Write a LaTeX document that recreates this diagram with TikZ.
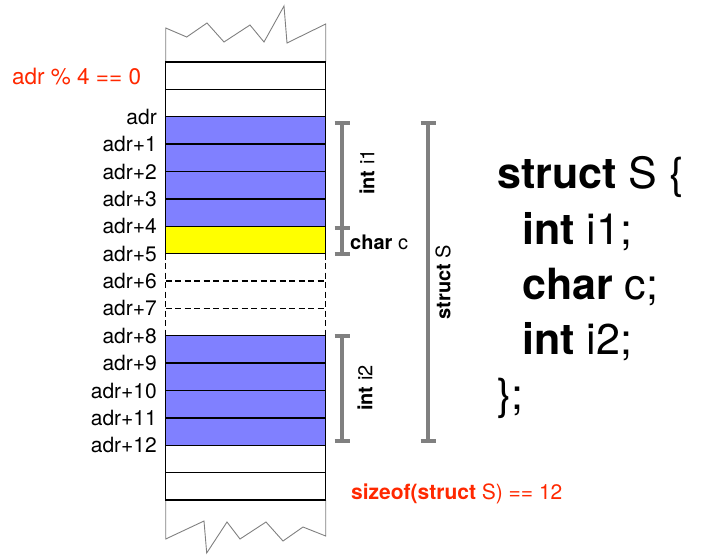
\documentclass[tikz,border=0pt]{standalone}
\usepackage{fontspec}
\setmainfont{TeX Gyre Heros}
\usepackage{xcolor}
\usepackage{tikz}
\usetikzlibrary{positioning}

\definecolor{memblue}{RGB}{128,128,255}
\definecolor{memyellow}{RGB}{255,255,0}
\definecolor{memred}{RGB}{255,40,0}
\definecolor{bargray}{RGB}{128,128,128}

\tikzset{
  cell/.style={line width=1.3pt, minimum width=160pt, minimum height=27.375pt, inner sep=0pt, outer sep=0pt},
  pad/.style={line width=1.2pt, dash pattern=on 6pt off 3.5pt},
  addr/.style={anchor=east, inner sep=0pt, font=\fontsize{21}{25}\selectfont},
  lbl/.style={inner sep=0pt, font=\fontsize{20}{24}\selectfont},
  brace/.style={draw=bargray, line width=4pt},
  code/.style={anchor=base west, inner sep=0pt, font=\fontsize{43}{50}\selectfont},
}

\begin{document}
\begin{tikzpicture}[x=1pt,y=-1pt]
\useasboundingbox (0,0) rectangle (701,555);

% torn ends
\draw[bargray, line width=0.9pt] (165.7,62)--(165.7,28)--(186.7,37)--(207,23)--(224,42)--(250,25)--(264,42)--(284,6)--(287,43)--(325.7,24)--(325.7,62);
\draw[bargray, line width=0.9pt] (165.7,500)--(165.7,539)--(204,521)--(206.7,553)--(227,522)--(240,539)--(266,522)--(283,541)--(303,527)--(325.7,536)--(325.7,500);

% padding bytes
\foreach \k in {7,8,9}
  \node[cell] (r\k) at (245.5,{62+27.375*(\k+0.5)}) {};
\draw[pad] (r7.north west)--(r9.south west);
\draw[pad] (r7.north east)--(r9.south east);
\draw[pad] (r8.north west)--(r8.north east);
\draw[pad] (r9.north west)--(r9.north east);

% memory cells
\foreach \k/\c in {0/white,1/white,2/memblue,3/memblue,4/memblue,5/memblue,6/memyellow,
                   10/memblue,11/memblue,12/memblue,13/memblue,14/white,15/white}
  \node[cell, draw=black, fill=\c] (r\k) at (245.5,{62+27.375*(\k+0.5)}) {};

% addresses
\node[addr] (a0) at ([xshift=-8.5pt]r2.north west) {adr};
\foreach \k [evaluate=\k as \j using int(\k+2)] in {1,...,12}
  \node[addr] (a\k) at ([xshift=-8.5pt]r\j.north west) {adr+\k};

\node[addr, anchor=west, text=memred, font=\fontsize{22.5}{26}\selectfont] (align) at (12,77) {adr \% 4 == 0};

% members
\coordinate (i1top) at (342,123);
\coordinate (i1bot) at (342,228);
\coordinate (cbot) at (342,254);
\coordinate (i2top) at (342,336);
\coordinate (i2bot) at (342,441);
\coordinate (stop) at (428,123);
\coordinate (sbot) at (428,441);

\draw[brace] (i1top)--(i1bot);
\draw[brace] (i1bot)--(cbot);
\draw[brace] (i2top)--(i2bot);
\draw[brace] (stop)--(sbot);
\foreach \p in {i1top,i1bot,cbot,i2top,i2bot,stop,sbot}
  \draw[brace] ([xshift=-7.5pt]\p)--([xshift=7.5pt]\p);

\node[lbl, rotate=90] (li1) at (367,172) {\textbf{int} i1};
\node[lbl, anchor=west] (lc) at (350,242) {\textbf{char} c};
\node[lbl, rotate=90] (ls) at (443,282) {\textbf{struct} S};
\node[lbl, rotate=90] (li2) at (365,388) {\textbf{int} i2};

% declaration
\node[code] (d1) at (497,188) {\textbf{struct} S \{};
\node[code] (d2) at (522,244) {\textbf{int} i1;};
\node[code] (d3) at (522,299) {\textbf{char} c;};
\node[code] (d4) at (522,354) {\textbf{int} i2;};
\node[code] (d5) at (497,409) {\};};

\node[addr, anchor=west, text=memred] (size) at (351,494) {\textbf{sizeof(struct} S) == 12};

\end{tikzpicture}
\end{document}
